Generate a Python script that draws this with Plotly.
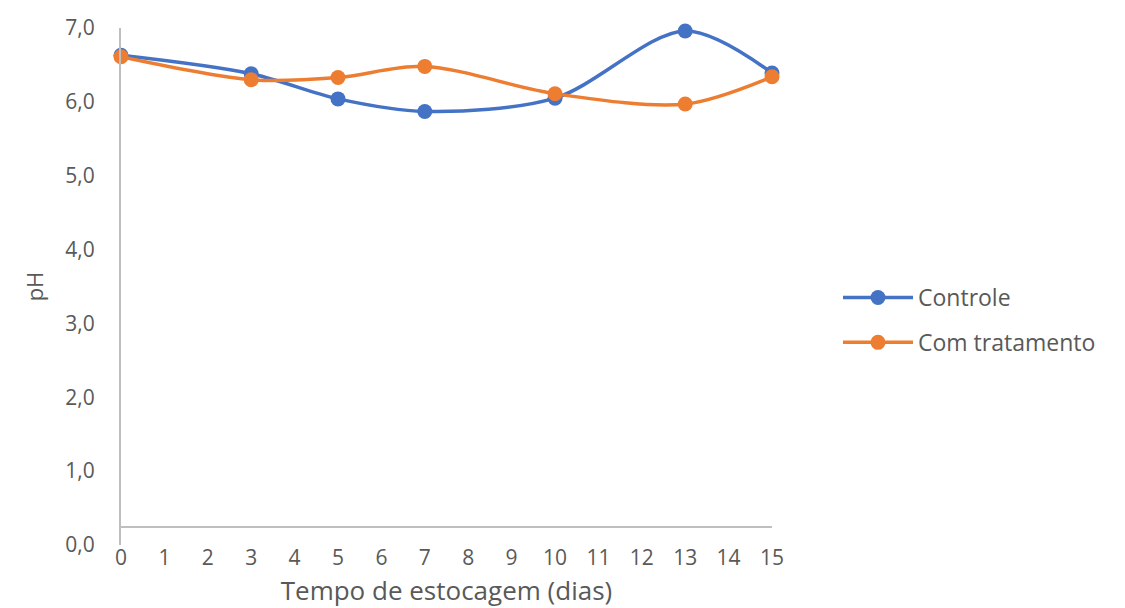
import plotly.graph_objects as go

# Storage days and measured pH
dias = [0, 3, 5, 7, 10, 13, 15]
ph_controle = [6.63, 6.38, 6.04, 5.87, 6.05, 6.96, 6.39]
ph_tratamento = [6.61, 6.30, 6.33, 6.48, 6.11, 5.97, 6.34]
x_ticks = list(range(0, 16))
y_ticks = [0, 1, 2, 3, 4, 5, 6, 7]

AZUL = "#4472C4"
LARANJA = "#ED7D31"
CINZA_TXT = "#595959"
CINZA_EIXO = "#BFBFBF"
FONTE = "Open Sans"

fig = go.Figure()
for nome, valores, cor, grupo in [
    ("Controle", ph_controle, AZUL, "a"),
    ("Com tratamento", ph_tratamento, LARANJA, "b"),
]:
    fig.add_trace(go.Scatter(
        x=dias, y=valores, name=nome, legendgroup=grupo,
        mode="lines+markers", cliponaxis=False,
        line=dict(color=cor, width=3.5, shape="spline", smoothing=0.9),
        marker=dict(color=cor, size=15),
    ))

W, H = 1125, 608
ml, mr, mt, mb = 121, 353, 28, 63
plot_h = H - mt - mb
eixo_x_px = 527  # vertical pixel of horizontal axis line

fig.update_layout(
    width=W, height=H,
    margin=dict(l=ml, r=mr, t=mt, b=mb, pad=0),
    paper_bgcolor="white", plot_bgcolor="white",
    separators=",.",
    font=dict(family=FONTE, color=CINZA_TXT),
    showlegend=True,
    legend=dict(
        x=(838 - ml) / (W - ml - mr), xanchor="left",
        y=(H - mb - 320) / plot_h, yanchor="middle",
        font=dict(size=23, color=CINZA_TXT, family=FONTE),
        tracegroupgap=12, traceorder="grouped",
        itemsizing="trace", itemwidth=70, bgcolor="rgba(0,0,0,0)",
    ),
    xaxis=dict(
        range=[0, 15], tickmode="array", tickvals=x_ticks,
        ticktext=[str(v) for v in x_ticks],
        showgrid=False, zeroline=False,
        showline=True, linecolor=CINZA_EIXO, linewidth=2,
        anchor="free", position=(H - mb - eixo_x_px) / plot_h,
        ticks="", ticklabelstandoff=12,
        tickfont=dict(size=21, color=CINZA_TXT),
        title=dict(text="Tempo de estocagem (dias)", standoff=16,
                   font=dict(size=26, color=CINZA_TXT)),
        automargin=False,
    ),
    yaxis=dict(
        range=[0, 7], tickmode="array", tickvals=y_ticks,
        tickformat=".1f",
        showgrid=False, zeroline=False,
        showline=True, linecolor=CINZA_EIXO, linewidth=2,
        ticks="", ticklabelstandoff=20,
        tickfont=dict(size=21, color=CINZA_TXT),
        title=dict(text="pH", standoff=16,
                   font=dict(size=22, color=CINZA_TXT)),
        automargin=False,
    ),
)

fig.write_html("out.html")
